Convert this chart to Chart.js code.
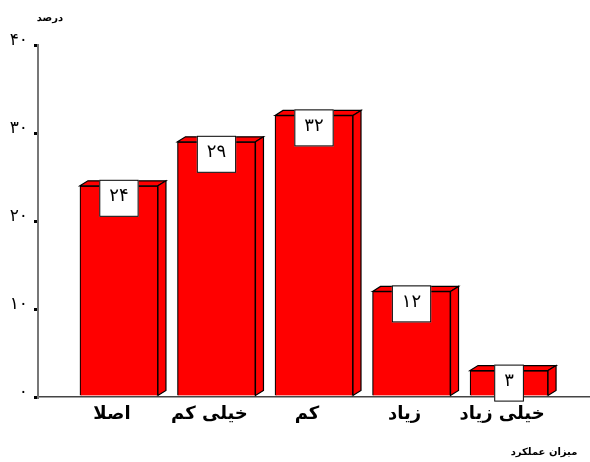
<!DOCTYPE html>
<html>
<head>
<meta charset="utf-8">
<script src="https://cdn.jsdelivr.net/npm/chart.js@4/dist/chart.umd.min.js"></script>
<style>
  body { margin: 0; background: #fff; }
</style>
</head>
<body>
<canvas id="chart" width="590" height="462"></canvas>
<script>
const categories = ['اصلا', 'خیلی کم', 'کم', 'زیاد', 'خیلی زیاد']
const values = [24, 29, 32, 12, 3]
const yMax = 40
const yStep = 10
const yTitle = 'درصد'
const xTitle = 'میزان عملکرد'

const faDigits = '۰۱۲۳۴۵۶۷۸۹'
function toFa(n) {
  return String(n).replace(/\d/g, d => faDigits[d])
}

const FONT = '"DejaVu Sans", sans-serif'

// 3d faces + value boxes + axis titles
const bar3d = {
  id: 'bar3d',
  afterDatasetsDraw(chart) {
    const ctx = chart.ctx
    const meta = chart.getDatasetMeta(0)
    const dx = 8, dy = 5
    ctx.save()
    ctx.lineWidth = 1.2
    ctx.strokeStyle = '#000'
    ctx.fillStyle = '#ff0000'
    meta.data.forEach(bar => {
      const l = bar.x - bar.width / 2
      const r = bar.x + bar.width / 2
      const t = bar.y
      const b = bar.base
      // top
      ctx.beginPath()
      ctx.moveTo(l, t)
      ctx.lineTo(l + dx, t - dy)
      ctx.lineTo(r + dx, t - dy)
      ctx.lineTo(r, t)
      ctx.closePath()
      ctx.fill(); ctx.stroke()
      // side
      ctx.beginPath()
      ctx.moveTo(r, t)
      ctx.lineTo(r + dx, t - dy)
      ctx.lineTo(r + dx, b - dy)
      ctx.lineTo(r, b)
      ctx.closePath()
      ctx.fill(); ctx.stroke()
    })
    // value boxes
    ctx.font = '18px ' + FONT
    ctx.textAlign = 'center'
    ctx.textBaseline = 'middle'
    meta.data.forEach((bar, i) => {
      const txt = toFa(values[i])
      const w = ctx.measureText(txt).width + 20
      const h = 37
      const x = bar.x - w / 2
      const y = bar.y - 6
      ctx.fillStyle = '#fff'
      ctx.fillRect(x, y, w, h)
      ctx.strokeStyle = '#000'
      ctx.lineWidth = 1
      ctx.strokeRect(x + 0.5, y + 0.5, w - 1, h - 1)
      ctx.fillStyle = '#000'
      ctx.fillText(txt, bar.x, y + h / 2 - 2)
    })
    // titles
    const area = chart.chartArea
    ctx.font = 'bold 10px ' + FONT
    ctx.fillText(yTitle, area.left + 12, area.top - 27)
    ctx.fillText(xTitle, area.right - 46, area.bottom + 55)
    ctx.restore()
  }
}

new Chart(document.getElementById('chart'), {
  type: 'bar',
  data: {
    datasets: [{
      data: values.map((v, i) => ({ x: i, y: v })),
      backgroundColor: '#ff0000',
      borderColor: '#000',
      borderWidth: 1.2,
      barThickness: 78
    }]
  },
  options: {
    responsive: false,
    animation: false,
    layout: { padding: { top: 45, right: 0, left: 0, bottom: 0 } },
    plugins: {
      legend: { display: false },
      tooltip: { enabled: false }
    },
    scales: {
      x: {
        type: 'linear',
        offset: false,
        min: -0.83,
        max: 4.83,
        afterFit: s => { s.height = 65 },
        grid: { display: false },
        border: { display: true, color: '#444', width: 1.5 },
        ticks: {
          stepSize: 1,
          autoSkip: false,
          maxRotation: 0,
          padding: 0,
          labelOffset: -7,
          color: '#000',
          font: { family: FONT, size: 18, weight: 'bold', lineHeight: 1 },
          callback: v => Number.isInteger(v) ? categories[v] : ''
        }
      },
      y: {
        min: 0,
        max: yMax,
        afterFit: s => { s.width = 38 },
        grid: { display: true, drawOnChartArea: false, tickLength: 4, lineWidth: 3, color: '#000' },
        border: { display: true, color: '#777', width: 2 },
        ticks: {
          stepSize: yStep,
          padding: 6,
          labelOffset: -4,
          color: '#000',
          font: { family: FONT, size: 17 },
          callback: v => toFa(v)
        }
      }
    }
  },
  plugins: [bar3d]
})
</script>
</body>
</html>
